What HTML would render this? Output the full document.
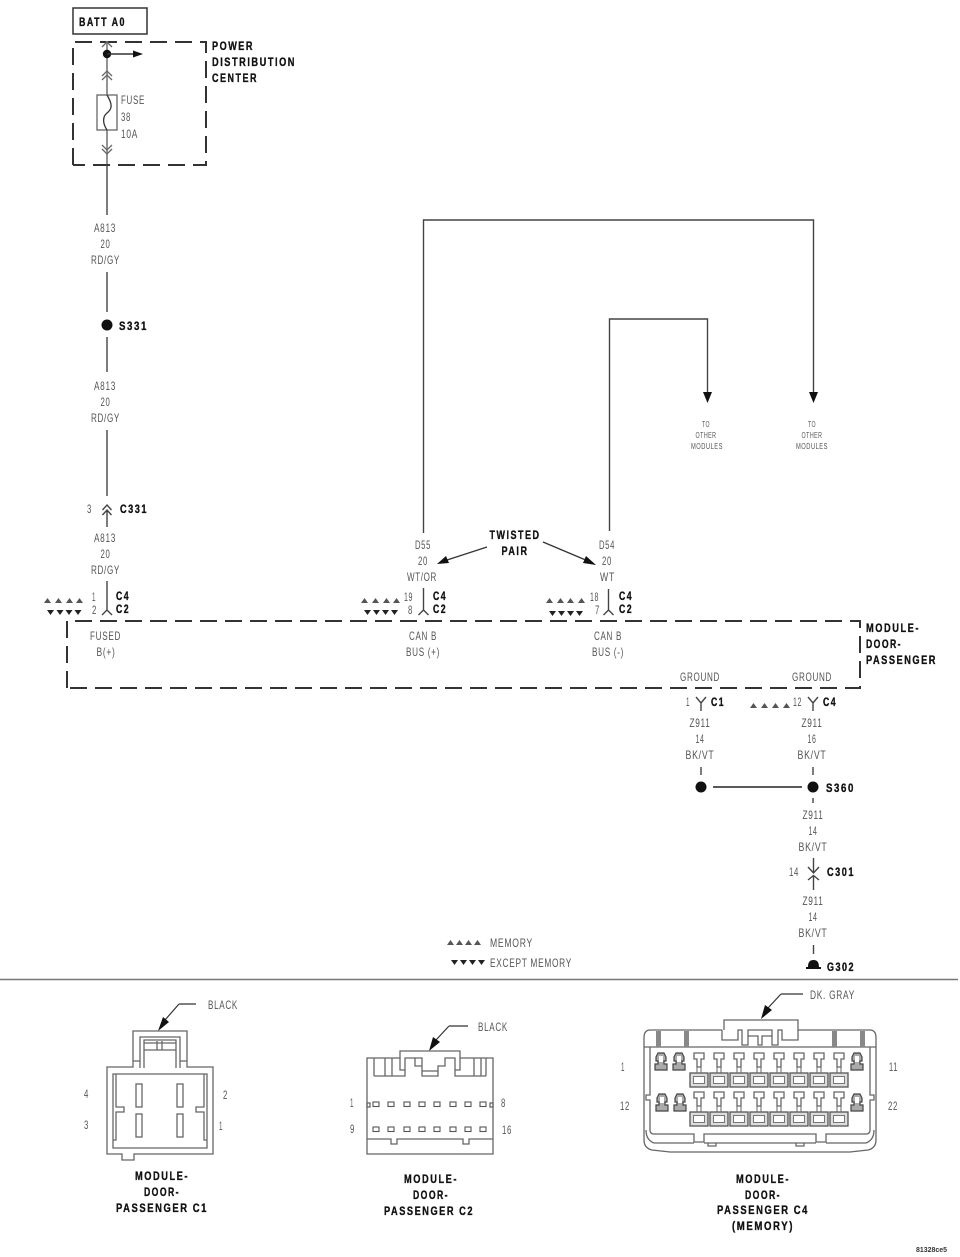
<!DOCTYPE html>
<html><head><meta charset="utf-8"><style>
html,body{margin:0;padding:0;background:#fff;width:960px;height:1257px;overflow:hidden}
svg{display:block;filter:blur(.35px)}
text{font-family:"Liberation Sans",sans-serif}
.l{font-size:12px;letter-spacing:1px;fill:#555;text-anchor:middle}
.n{font-size:12px;letter-spacing:1px;fill:#555}
.b{font-size:12px;letter-spacing:2px;font-weight:bold;fill:#111;stroke:#111;stroke-width:.35}
.bm{font-size:12px;letter-spacing:2px;font-weight:bold;fill:#111;stroke:#111;stroke-width:.35;text-anchor:middle}
.s{font-size:8px;letter-spacing:.7px;fill:#555;text-anchor:middle}
.w{fill:none;stroke:#444;stroke-width:1.4}
.g{fill:none;stroke:#666;stroke-width:1.3}
.d{fill:none;stroke:#333;stroke-width:2;stroke-dasharray:17 8}
</style></head><body>
<svg width="960" height="1257" viewBox="0 0 960 1257" xmlns="http://www.w3.org/2000/svg">
<defs>
<path id="up" d="M0 0L3.5 -5L7 0Z" fill="#555"/>
<path id="dn" d="M0 0L3.5 5L7 0Z" fill="#222"/>
<g id="big"><path class="g" d="M-5 0H5V6H2V14H-2V6H-5Z"/><rect x="-9" y="20" width="18" height="14" fill="#ddd" stroke="#555" stroke-width="1.3"/><rect x="-5.500" y="23.500" width="11" height="7" fill="#fff" stroke="#777"/><path d="M-2 14V20M2 14V20" stroke="#666"/></g>
<g id="small"><path d="M-3 0H3L5 4V8H3V11H6V17H-6V11H-3V8H-5V4Z" fill="#aaa" stroke="#444" stroke-width="1.200"/><rect x="-2" y="3" width="4" height="6" fill="#fff"/></g>
<rect id="p" width="6" height="4.500" fill="#fff" stroke="#555" stroke-width="1.100"/>
</defs>

<!-- BATT -->
<rect x="73" y="8" width="74" height="26" fill="#fff" stroke="#333" stroke-width="1.500"/>
<text class="b" x="79" y="26" textLength="47" lengthAdjust="spacingAndGlyphs">BATT A0</text>

<!-- PDC -->
<path class="d" d="M73 165V42H206V165H73"/>
<text class="b" x="212" y="50" textLength="42" lengthAdjust="spacingAndGlyphs">POWER</text>
<text class="b" x="212" y="66" textLength="84" lengthAdjust="spacingAndGlyphs">DISTRIBUTION</text>
<text class="b" x="212" y="82" textLength="46" lengthAdjust="spacingAndGlyphs">CENTER</text>
<path d="M107 41V95M107 130V164" stroke="#888" stroke-width="1.800" fill="none"/>
<path d="M107 164V215" stroke="#444" stroke-width="1.400"/>
<circle cx="107" cy="54" r="4.200" fill="#111"/>
<path d="M107 54H133" stroke="#333" stroke-width="1.600"/><path d="M133 50.500L143 54L133 57.500Z" fill="#111"/>
<path class="g" d="M102 47L107 42L112 47M102 76L107 71L112 76M102 80L107 75L112 80M102 145L107 150L112 145M102 149L107 154L112 149"/>
<rect x="97" y="95" width="20" height="35" fill="#fff" stroke="#666" stroke-width="1.300"/>
<path d="M107 95C113 105 112 109 107 113C102 117 103 124 107 130" fill="none" stroke="#333" stroke-width="1.300"/>
<text class="n" x="121" y="104" textLength="24" lengthAdjust="spacingAndGlyphs">FUSE</text>
<text class="n" x="121" y="121" textLength="10" lengthAdjust="spacingAndGlyphs">38</text>
<text class="n" x="121" y="138" textLength="17" lengthAdjust="spacingAndGlyphs">10A</text>

<!-- left wire labels -->
<text class="l" x="105" y="232" textLength="22" lengthAdjust="spacingAndGlyphs">A813</text>
<text class="l" x="105.500" y="248" textLength="10" lengthAdjust="spacingAndGlyphs">20</text>
<text class="l" x="105.500" y="264" textLength="29" lengthAdjust="spacingAndGlyphs">RD/GY</text>
<path class="w" d="M107 272V312M107 337V372"/>
<circle cx="107" cy="325" r="5.500" fill="#111"/>
<text class="b" x="119" y="330" textLength="29" lengthAdjust="spacingAndGlyphs">S331</text>
<text class="l" x="105" y="390" textLength="22" lengthAdjust="spacingAndGlyphs">A813</text>
<text class="l" x="105.500" y="406" textLength="10" lengthAdjust="spacingAndGlyphs">20</text>
<text class="l" x="105.500" y="422" textLength="29" lengthAdjust="spacingAndGlyphs">RD/GY</text>
<path class="w" d="M107 430V496M107 510V527M102.500 510L107 505L111.500 510M102.500 515L107 510L111.500 515"/>
<text class="n" x="87" y="513" textLength="5" lengthAdjust="spacingAndGlyphs">3</text>
<text class="b" x="120" y="513" textLength="28" lengthAdjust="spacingAndGlyphs">C331</text>
<text class="l" x="105" y="542" textLength="22" lengthAdjust="spacingAndGlyphs">A813</text>
<text class="l" x="105.500" y="558" textLength="10" lengthAdjust="spacingAndGlyphs">20</text>
<text class="l" x="105.500" y="574" textLength="29" lengthAdjust="spacingAndGlyphs">RD/GY</text>
<path class="w" d="M107 581V610M102 615L107 610L112 615"/>
<text class="n" x="92" y="601" textLength="4" lengthAdjust="spacingAndGlyphs">1</text>
<text class="n" x="92" y="614" textLength="5" lengthAdjust="spacingAndGlyphs">2</text>
<text class="b" x="116" y="600" textLength="14" lengthAdjust="spacingAndGlyphs">C4</text>
<text class="b" x="116" y="613" textLength="14" lengthAdjust="spacingAndGlyphs">C2</text>
<use href="#up" x="44" y="603"/><use href="#up" x="55" y="603"/><use href="#up" x="66" y="603"/><use href="#up" x="76" y="603"/>
<use href="#dn" x="47" y="610"/><use href="#dn" x="56.500" y="610"/><use href="#dn" x="65.500" y="610"/><use href="#dn" x="74.500" y="610"/>

<!-- module -->
<path class="d" d="M67 688V621H860V688H67"/>
<text class="b" x="866" y="632" textLength="54" lengthAdjust="spacingAndGlyphs">MODULE-</text>
<text class="b" x="866" y="648" textLength="36" lengthAdjust="spacingAndGlyphs">DOOR-</text>
<text class="b" x="866" y="664" textLength="71" lengthAdjust="spacingAndGlyphs">PASSENGER</text>
<text class="l" x="105.500" y="640" textLength="31" lengthAdjust="spacingAndGlyphs">FUSED</text>
<text class="l" x="106" y="656" textLength="19" lengthAdjust="spacingAndGlyphs">B(+)</text>
<text class="l" x="423" y="640" textLength="28" lengthAdjust="spacingAndGlyphs">CAN B</text>
<text class="l" x="423" y="656" textLength="34" lengthAdjust="spacingAndGlyphs">BUS (+)</text>
<text class="l" x="608" y="640" textLength="28" lengthAdjust="spacingAndGlyphs">CAN B</text>
<text class="l" x="608" y="656" textLength="32" lengthAdjust="spacingAndGlyphs">BUS (-)</text>

<!-- CAN wires -->
<path class="w" d="M423.500 533V220H813.500V392M609.500 531V319H707.500V392"/>
<path d="M703 392H712L707.500 403ZM809 392H818L813.500 403Z" fill="#111"/>
<text class="s" x="706" y="427" textLength="8" lengthAdjust="spacingAndGlyphs">TO</text>
<text class="s" x="706" y="438" textLength="21" lengthAdjust="spacingAndGlyphs">OTHER</text>
<text class="s" x="707" y="449" textLength="32" lengthAdjust="spacingAndGlyphs">MODULES</text>
<text class="s" x="812" y="427" textLength="8" lengthAdjust="spacingAndGlyphs">TO</text>
<text class="s" x="812" y="438" textLength="21" lengthAdjust="spacingAndGlyphs">OTHER</text>
<text class="s" x="812" y="449" textLength="32" lengthAdjust="spacingAndGlyphs">MODULES</text>

<text class="bm" x="515" y="539" textLength="51" lengthAdjust="spacingAndGlyphs">TWISTED</text>
<text class="bm" x="515" y="555" textLength="27" lengthAdjust="spacingAndGlyphs">PAIR</text>
<path d="M487 547L444 561M543 542L588 561" stroke="#333" stroke-width="1.300"/>
<path d="M437 564L446 556L449 563ZM596 565L586 556L583 563Z" fill="#111"/>

<text class="l" x="423" y="549" textLength="16" lengthAdjust="spacingAndGlyphs">D55</text>
<text class="l" x="423" y="565" textLength="10" lengthAdjust="spacingAndGlyphs">20</text>
<text class="l" x="422" y="581" textLength="30" lengthAdjust="spacingAndGlyphs">WT/OR</text>
<path class="w" d="M423.500 588V610M418.500 615L423.500 610L428.500 615"/>
<text class="n" x="404" y="601" textLength="9" lengthAdjust="spacingAndGlyphs">19</text>
<text class="n" x="408" y="614" textLength="5" lengthAdjust="spacingAndGlyphs">8</text>
<text class="b" x="433" y="600" textLength="14" lengthAdjust="spacingAndGlyphs">C4</text>
<text class="b" x="433" y="613" textLength="14" lengthAdjust="spacingAndGlyphs">C2</text>
<use href="#up" x="361" y="603"/><use href="#up" x="372" y="603"/><use href="#up" x="383" y="603"/><use href="#up" x="393" y="603"/>
<use href="#dn" x="364" y="610"/><use href="#dn" x="373" y="610"/><use href="#dn" x="382" y="610"/><use href="#dn" x="391" y="610"/>

<text class="l" x="607" y="549" textLength="16" lengthAdjust="spacingAndGlyphs">D54</text>
<text class="l" x="607" y="565" textLength="10" lengthAdjust="spacingAndGlyphs">20</text>
<text class="l" x="607.500" y="581" textLength="15" lengthAdjust="spacingAndGlyphs">WT</text>
<path class="w" d="M608.500 589V610M603.500 615L608.500 610L613.500 615"/>
<text class="n" x="590" y="601" textLength="9" lengthAdjust="spacingAndGlyphs">18</text>
<text class="n" x="595" y="614" textLength="5" lengthAdjust="spacingAndGlyphs">7</text>
<text class="b" x="619" y="600" textLength="14" lengthAdjust="spacingAndGlyphs">C4</text>
<text class="b" x="619" y="613" textLength="14" lengthAdjust="spacingAndGlyphs">C2</text>
<use href="#up" x="546" y="603"/><use href="#up" x="557" y="603"/><use href="#up" x="567" y="603"/><use href="#up" x="578" y="603"/>
<use href="#dn" x="549" y="611"/><use href="#dn" x="558" y="611"/><use href="#dn" x="567" y="611"/><use href="#dn" x="576" y="611"/>

<!-- ground -->
<text class="l" x="700" y="681" textLength="40" lengthAdjust="spacingAndGlyphs">GROUND</text>
<text class="l" x="812" y="681" textLength="40" lengthAdjust="spacingAndGlyphs">GROUND</text>
<path class="w" d="M696 697L701 703L706 697M701 703V711M808 697L813 703L818 697M813 703V711"/>
<text class="n" x="686" y="706" textLength="4" lengthAdjust="spacingAndGlyphs">1</text>
<text class="n" x="793" y="706" textLength="9" lengthAdjust="spacingAndGlyphs">12</text>
<text class="b" x="711" y="706" textLength="14" lengthAdjust="spacingAndGlyphs">C1</text>
<text class="b" x="823" y="706" textLength="14" lengthAdjust="spacingAndGlyphs">C4</text>
<use href="#up" x="750" y="708"/><use href="#up" x="761" y="708"/><use href="#up" x="772" y="708"/><use href="#up" x="783" y="708"/>
<text class="l" x="700" y="727" textLength="21" lengthAdjust="spacingAndGlyphs">Z911</text>
<text class="l" x="700" y="743" textLength="9" lengthAdjust="spacingAndGlyphs">14</text>
<text class="l" x="700" y="759" textLength="29" lengthAdjust="spacingAndGlyphs">BK/VT</text>
<text class="l" x="812" y="727" textLength="21" lengthAdjust="spacingAndGlyphs">Z911</text>
<text class="l" x="812" y="743" textLength="9" lengthAdjust="spacingAndGlyphs">16</text>
<text class="l" x="812" y="759" textLength="29" lengthAdjust="spacingAndGlyphs">BK/VT</text>
<path class="w" d="M701 767V775M813 767V775M813 798V803"/>
<circle cx="701" cy="787" r="5.500" fill="#111"/><circle cx="813" cy="787" r="5.500" fill="#111"/>
<path d="M713 787H802" stroke="#222" stroke-width="1.500"/>
<text class="b" x="826" y="792" textLength="29" lengthAdjust="spacingAndGlyphs">S360</text>
<text class="l" x="813" y="819" textLength="21" lengthAdjust="spacingAndGlyphs">Z911</text>
<text class="l" x="813" y="835" textLength="9" lengthAdjust="spacingAndGlyphs">14</text>
<text class="l" x="813" y="851" textLength="29" lengthAdjust="spacingAndGlyphs">BK/VT</text>
<path class="w" d="M813.500 858V873M808 867L813.500 873L819 867M808 880L813.500 875.500L819 880M813.500 876V890"/>
<text class="n" x="789" y="876" textLength="10" lengthAdjust="spacingAndGlyphs">14</text>
<text class="b" x="827" y="876" textLength="28" lengthAdjust="spacingAndGlyphs">C301</text>
<text class="l" x="813" y="905" textLength="21" lengthAdjust="spacingAndGlyphs">Z911</text>
<text class="l" x="813" y="921" textLength="9" lengthAdjust="spacingAndGlyphs">14</text>
<text class="l" x="813" y="937" textLength="29" lengthAdjust="spacingAndGlyphs">BK/VT</text>
<path class="w" d="M813.500 945V954"/>
<path d="M808 967C808 962 810 960 813.500 960C817 960 819 962 819 967H821V969H806V967Z" fill="#111"/>
<text class="b" x="827" y="971" textLength="28" lengthAdjust="spacingAndGlyphs">G302</text>

<!-- legend -->
<use href="#up" x="447" y="945"/><use href="#up" x="456" y="945"/><use href="#up" x="465" y="945"/><use href="#up" x="474" y="945"/>
<use href="#dn" x="451" y="960"/><use href="#dn" x="460" y="960"/><use href="#dn" x="469" y="960"/><use href="#dn" x="478" y="960"/>
<text class="n" x="490" y="947" textLength="43" lengthAdjust="spacingAndGlyphs">MEMORY</text>
<text class="n" x="490" y="967" textLength="82" lengthAdjust="spacingAndGlyphs">EXCEPT MEMORY</text>
<path d="M0 979.500H958" stroke="#777" stroke-width="1.400"/>

<!-- C1 connector -->
<path d="M179 1004H196M179 1004L165 1020" stroke="#333" stroke-width="1.200" fill="none"/>
<path d="M158 1031L163 1017L169 1022Z" fill="#111"/>
<text class="n" x="208" y="1009" textLength="30" lengthAdjust="spacingAndGlyphs">BLACK</text>
<path class="g" d="M133 1067V1031H187V1067H213V1154H134V1160H122V1154H107V1067Z"/>
<path class="g" d="M140 1068V1037H180V1068M144 1068V1040H176V1068M144 1043H176M144 1050H176M157 1041V1050M162 1041V1050M133 1061H140M180 1061H187"/>
<path class="g" d="M113 1074H207V1148H113ZM113 1074H116V1107H124V1112H116V1140H113M207 1074H204V1107H196V1112H204V1140H207"/>
<rect class="g" x="136" y="1084" width="6" height="23"/><rect class="g" x="136" y="1114" width="6" height="23"/>
<rect class="g" x="177" y="1084" width="6" height="23"/><rect class="g" x="177" y="1114" width="6" height="23"/>
<text class="n" x="84" y="1098" textLength="5" lengthAdjust="spacingAndGlyphs">4</text>
<text class="n" x="84" y="1129" textLength="5" lengthAdjust="spacingAndGlyphs">3</text>
<text class="n" x="223" y="1099" textLength="5" lengthAdjust="spacingAndGlyphs">2</text>
<text class="n" x="219" y="1130" textLength="4" lengthAdjust="spacingAndGlyphs">1</text>
<text class="bm" x="162" y="1180" textLength="54" lengthAdjust="spacingAndGlyphs">MODULE-</text>
<text class="bm" x="162" y="1196" textLength="36" lengthAdjust="spacingAndGlyphs">DOOR-</text>
<text class="bm" x="162" y="1212" textLength="92" lengthAdjust="spacingAndGlyphs">PASSENGER C1</text>

<!-- C2 connector -->
<path d="M449 1026H468M449 1026L436 1040" stroke="#333" stroke-width="1.200" fill="none"/>
<path d="M429 1051L433 1037L440 1042Z" fill="#111"/>
<text class="n" x="478" y="1031" textLength="30" lengthAdjust="spacingAndGlyphs">BLACK</text>
<path class="g" d="M367 1058H400V1051H460V1058H493V1154H367Z"/>
<path class="g" d="M374 1058V1076M385 1058V1076M392 1058V1076M474 1058V1076M481 1058V1076M486 1058V1076M374 1076H405V1058H415V1066H422V1076H437V1076H438V1066H445V1058H455V1076H486M400 1058V1070H405M460 1058V1070H455M422 1071H438M415 1058H422V1066"/>
<path class="g" d="M367 1139H391V1144H397V1139H463V1144H469V1139H493"/>
<use href="#p" x="373" y="1102"/><use href="#p" x="388" y="1102"/><use href="#p" x="404" y="1102"/><use href="#p" x="419" y="1102"/><use href="#p" x="434" y="1102"/><use href="#p" x="450" y="1102"/><use href="#p" x="465" y="1102"/><use href="#p" x="480" y="1102"/>
<use href="#p" x="373" y="1127"/><use href="#p" x="388" y="1127"/><use href="#p" x="404" y="1127"/><use href="#p" x="419" y="1127"/><use href="#p" x="434" y="1127"/><use href="#p" x="450" y="1127"/><use href="#p" x="465" y="1127"/><use href="#p" x="480" y="1127"/>
<rect class="g" x="367" y="1103" width="3" height="4"/><rect class="g" x="490" y="1103" width="3" height="4"/>
<text class="n" x="350" y="1107" textLength="4" lengthAdjust="spacingAndGlyphs">1</text>
<text class="n" x="350" y="1133" textLength="5" lengthAdjust="spacingAndGlyphs">9</text>
<text class="n" x="501" y="1107" textLength="5" lengthAdjust="spacingAndGlyphs">8</text>
<text class="n" x="502" y="1134" textLength="10" lengthAdjust="spacingAndGlyphs">16</text>
<text class="bm" x="431" y="1183" textLength="54" lengthAdjust="spacingAndGlyphs">MODULE-</text>
<text class="bm" x="431" y="1199" textLength="36" lengthAdjust="spacingAndGlyphs">DOOR-</text>
<text class="bm" x="429" y="1215" textLength="90" lengthAdjust="spacingAndGlyphs">PASSENGER C2</text>

<!-- C4 connector -->
<path d="M781 994H803M781 994L768 1008" stroke="#333" stroke-width="1.200" fill="none"/>
<path d="M761 1019L765 1005L772 1010Z" fill="#111"/>
<text class="n" x="810" y="999" textLength="45" lengthAdjust="spacingAndGlyphs">DK. GRAY</text>
<path class="g" d="M722 1030H650Q644 1030 644 1038V1140Q644 1148 652 1150L670 1152H850L868 1150Q876 1148 876 1140V1038Q876 1030 870 1030H798V1020H724V1030"/>
<path class="g" d="M644 1047H876M722 1030V1040H738V1030H742V1045H748V1030H772V1045H778V1030H782V1040H798V1030M748 1036H758V1045H762V1036H772"/>
<rect x="656" y="1031" width="5" height="16" fill="#888"/><rect x="684" y="1031" width="5" height="16" fill="#888"/>
<rect x="832" y="1031" width="5" height="16" fill="#888"/><rect x="860" y="1031" width="5" height="16" fill="#888"/>
<path class="g" d="M650 1047V1095H646V1100H650V1130Q650 1134 654 1134H694V1142H704V1134H816V1142H826V1134H866Q870 1134 870 1130V1100H874V1095H870V1047"/>
<path class="g" d="M646 1130Q646 1140 654 1143H694M874 1130Q874 1140 866 1143H826M704 1143H816M708 1143V1146H716V1143M796 1143V1146H804V1143"/>
<use href="#small" x="661" y="1053"/><use href="#small" x="679" y="1053"/><use href="#small" x="857" y="1053"/>
<use href="#small" x="662" y="1094"/><use href="#small" x="680" y="1094"/><use href="#small" x="857" y="1094"/>
<use href="#big" x="699" y="1053"/><use href="#big" x="719" y="1053"/><use href="#big" x="739" y="1053"/><use href="#big" x="759" y="1053"/><use href="#big" x="779" y="1053"/><use href="#big" x="799" y="1053"/><use href="#big" x="819" y="1053"/><use href="#big" x="839" y="1053"/>
<use href="#big" x="699" y="1092"/><use href="#big" x="719" y="1092"/><use href="#big" x="739" y="1092"/><use href="#big" x="759" y="1092"/><use href="#big" x="779" y="1092"/><use href="#big" x="799" y="1092"/><use href="#big" x="819" y="1092"/><use href="#big" x="839" y="1092"/>
<text class="n" x="621" y="1071" textLength="4" lengthAdjust="spacingAndGlyphs">1</text>
<text class="n" x="620" y="1110" textLength="10" lengthAdjust="spacingAndGlyphs">12</text>
<text class="n" x="889" y="1071" textLength="9" lengthAdjust="spacingAndGlyphs">11</text>
<text class="n" x="888" y="1110" textLength="10" lengthAdjust="spacingAndGlyphs">22</text>
<text class="bm" x="763" y="1183" textLength="54" lengthAdjust="spacingAndGlyphs">MODULE-</text>
<text class="bm" x="763" y="1199" textLength="36" lengthAdjust="spacingAndGlyphs">DOOR-</text>
<text class="bm" x="763" y="1214" textLength="92" lengthAdjust="spacingAndGlyphs">PASSENGER C4</text>
<text class="bm" x="763" y="1230" textLength="62" lengthAdjust="spacingAndGlyphs">(MEMORY)</text>

<text x="916" y="1252" style="font-size:7.500px;font-weight:bold;fill:#333" textLength="31" lengthAdjust="spacingAndGlyphs">81328ce5</text>
</svg>
</body></html>
